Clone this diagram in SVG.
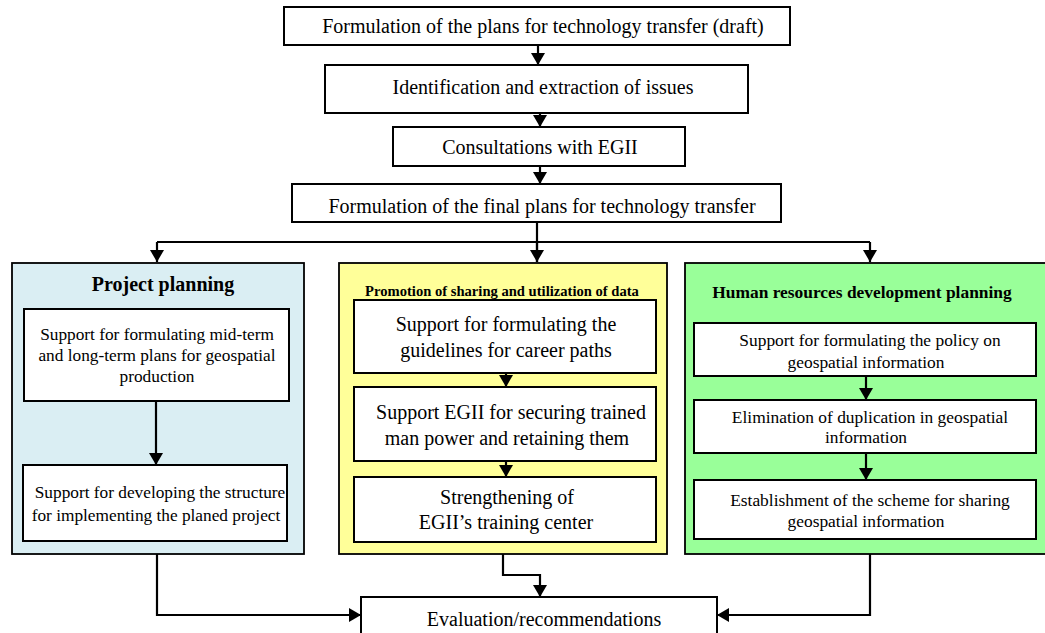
<svg xmlns="http://www.w3.org/2000/svg" width="1045" height="633" viewBox="0 0 1045 633">
<defs>
<marker id="ah" markerUnits="userSpaceOnUse" markerWidth="14" markerHeight="14" refX="12" refY="7" orient="auto" viewBox="0 0 14 14">
<path d="M0,0 L12,7 L0,14 Z" fill="#000"/>
</marker>
</defs>
<style>
.box{fill:#fff;stroke:#000;stroke-width:2}
.pan{stroke:#000;stroke-width:1.8}
text{font-family:'Liberation Serif','Times New Roman',Times,serif;fill:#000;text-anchor:middle}
.c{fill:none;stroke:#000;stroke-width:2.2}
</style>
<rect width="1045" height="633" fill="#fff"/>
<g font-family="'Liberation Serif', 'Times New Roman', serif">
<g id="n1"><rect class="box" x="284" y="7" width="506" height="38"/><text x="543" y="33" font-size="20">Formulation of the plans for technology transfer (draft)</text></g>
<g id="n2"><rect class="box" x="325" y="65" width="423" height="48"/><text x="543" y="94" font-size="20">Identification and extraction of issues</text></g>
<g id="n3"><rect class="box" x="393" y="127" width="292" height="39"/><text x="540" y="154" font-size="20">Consultations with EGII</text></g>
<g id="n4"><rect class="box" x="292" y="184" width="489" height="38"/><text x="542" y="213" font-size="20">Formulation of the final plans for technology transfer</text></g>

<g id="p1"><rect class="pan" x="12" y="263" width="292" height="291" fill="#DAEEF3"/><text x="163" y="291" font-size="20" font-weight="bold">Project planning</text></g>
<g id="p1a"><rect class="box" x="24" y="309" width="265" height="92"/><text font-size="17.3"><tspan x="157" y="340">Support for formulating mid-term</tspan><tspan x="157" y="361">and long-term plans for geospatial</tspan><tspan x="157" y="382">production</tspan></text></g>
<g id="p1b"><rect class="box" x="23" y="465" width="264" height="76"/><text font-size="17.3"><tspan x="160" y="498">Support for developing the structure</tspan><tspan x="156" y="521">for implementing the planed project</tspan></text></g>

<g id="p2"><rect class="pan" x="339" y="263" width="328" height="291" fill="#FFFF99"/><text x="502" y="296" font-size="14.6" font-weight="bold">Promotion of sharing and utilization of data</text></g>
<g id="p2a"><rect class="box" x="354" y="300" width="302" height="73"/><text font-size="20"><tspan x="506" y="331">Support for formulating the</tspan><tspan x="506" y="357">guidelines for career paths</tspan></text></g>
<g id="p2b"><rect class="box" x="354" y="387" width="302" height="74"/><text font-size="20"><tspan x="511" y="419">Support EGII for securing trained</tspan><tspan x="507" y="445">man power and retaining them</tspan></text></g>
<g id="p2c"><rect class="box" x="354" y="477" width="302" height="65"/><text font-size="20"><tspan x="507" y="504">Strengthening of</tspan><tspan x="506" y="529">EGII’s training center</tspan></text></g>

<g id="p3"><rect class="pan" x="685" y="263" width="370" height="291" fill="#99FF99"/><text x="862" y="298" font-size="17.4" font-weight="bold">Human resources development planning</text></g>
<g id="p3a"><rect class="box" x="694" y="323" width="342" height="53"/><text font-size="17.4"><tspan x="870" y="346">Support for formulating the policy on</tspan><tspan x="866" y="368">geospatial information</tspan></text></g>
<g id="p3b"><rect class="box" x="694" y="400" width="342" height="53"/><text font-size="17.4"><tspan x="870" y="423">Elimination of duplication in geospatial</tspan><tspan x="866" y="443">information</tspan></text></g>
<g id="p3c"><rect class="box" x="694" y="480" width="342" height="59"/><text font-size="17.4"><tspan x="870" y="506">Establishment of the scheme for sharing</tspan><tspan x="866" y="527">geospatial information</tspan></text></g>

<g id="eval"><rect class="box" x="361" y="597" width="356" height="60"/><text x="544" y="626" font-size="20">Evaluation/recommendations</text></g>
</g>
<g id="connectors">
<path class="c" d="M538,45 V65" marker-end="url(#ah)"/>
<path class="c" d="M540,113 V127" marker-end="url(#ah)"/>
<path class="c" d="M540,166 V184" marker-end="url(#ah)"/>
<path class="c" d="M537,222 V262"/>
<path class="c" d="M157,242 H870"/>
<path class="c" d="M157,242 V262" marker-end="url(#ah)"/>
<path class="c" d="M537,242 V262" marker-end="url(#ah)"/>
<path class="c" d="M870,242 V262" marker-end="url(#ah)"/>
<path class="c" d="M156,401 V465" marker-end="url(#ah)"/>
<path class="c" d="M506,373 V387" marker-end="url(#ah)"/>
<path class="c" d="M506,461 V477" marker-end="url(#ah)"/>
<path class="c" d="M866,376 V400" marker-end="url(#ah)"/>
<path class="c" d="M866,453 V480" marker-end="url(#ah)"/>
<path class="c" d="M157,554 V615 H361" marker-end="url(#ah)"/>
<path class="c" d="M503,554 V575 H540 V597" marker-end="url(#ah)"/>
<path class="c" d="M870,554 V615 H717" marker-end="url(#ah)"/>
</g>
</svg>
